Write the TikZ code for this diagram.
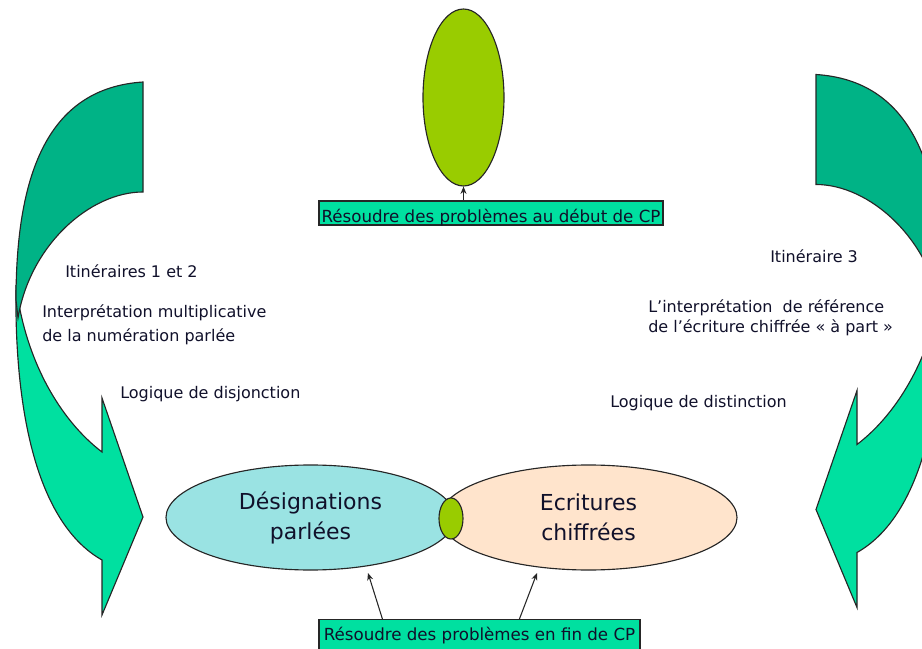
\documentclass[tikz,border=0pt]{standalone}
\usepackage{fontspec}
\setmainfont{DejaVu Sans}
\usetikzlibrary{shapes.geometric,arrows.meta,calc}
\definecolor{cBright}{HTML}{00E0A0}
\definecolor{cDark}{HTML}{00B386}
\definecolor{cCyan}{HTML}{9AE3E3}
\definecolor{cPeach}{HTML}{FFE4CC}
\definecolor{cLime}{HTML}{99CC00}
\definecolor{cText}{HTML}{10102A}
\newcommand\bandarrowshape{%
  \filldraw[shapeline, fill=cBright] (16,285) .. controls (14,420) and (40,525) .. (102,560)
     -- (102,615) -- (143,517) -- (102,398) -- (102,452)
     .. controls (60,420) and (25,360) .. (16,285) -- cycle;
  \filldraw[shapeline, fill=cDark] (143,82) .. controls (50,88) and (16,170) .. (16,300)
     -- (18,318) .. controls (30,245) and (90,192) .. (143,192) -- cycle;}
\begin{document}
\begin{tikzpicture}[x=0.75pt,y=-0.75pt,
  shapeline/.style={draw=black!85, line width=0.85pt},
  smalltxt/.style={font=\fontsize{12}{14}\selectfont, text=cText, inner sep=0pt, anchor=base west},
  boxtxt/.style={rectangle, draw=black!85, line width=0.85pt, fill=cBright, font=\fontsize{12.5}{15}\selectfont, text=cText, inner sep=0pt},
  bigtxt/.style={ellipse, shapeline, inner sep=0pt, align=center, text=cText, font=\fontsize{16.5}{22.5}\selectfont},
  conn/.style={-{Stealth[length=5.5pt,width=4.5pt]}, line width=0.8pt, draw=black!85}]
\useasboundingbox (0,0) rectangle (922,649);
\clip (0,0) rectangle (922,649);

% curved arrows
\bandarrowshape
\begin{scope}[shift={(959,-7.5)}, xscale=-1]
  \bandarrowshape
\end{scope}

% top
\node[ellipse, shapeline, fill=cLime, minimum width=60.75pt, minimum height=132.75pt, inner sep=0pt] (topell) at (463.5,97.5) {};
\node[boxtxt, minimum width=258pt, text height=16pt, text depth=2pt] (topbox) at (491,213) {Résoudre des problèmes au début de CP};
\draw[conn] (topbox.north -| topell.south) -- (topell.south);

% central ellipses
\node[bigtxt, fill=cCyan, minimum width=216.75pt, minimum height=78.75pt] (desig) at (310.5,517.5) {Désignations\\parlées};
\node[bigtxt, fill=cPeach, minimum width=222.75pt, minimum height=78.75pt] (ecrit) at (588.5,517.5) {Ecritures\\chiffrées};
\node[ellipse, shapeline, fill=cLime, minimum width=18pt, minimum height=30.75pt, inner sep=0pt] (inter) at (451,518.5) {};

% bottom box
\node[boxtxt, anchor=north, minimum width=240.75pt, text height=15.75pt, text depth=11.25pt] (botbox) at (479.5,619) {Résoudre des problèmes en fin de CP};
\coordinate (q1) at ($(botbox.north west)+(64,0)$);
\coordinate (q2) at ($(botbox.north west)+(201,0)$);
\coordinate (p1) at (368,573);
\coordinate (p2) at (537,573);
\draw[conn] (q1) -- (p1);
\draw[conn] (q2) -- (p2);

% texts
\node[smalltxt] (it12) at (65,278) {Itinéraires 1 et 2};
\node[smalltxt] (interpA) at (42,318) {Interprétation multiplicative};
\node[smalltxt] (interpB) at (42,341) {de la numération parlée};
\node[smalltxt] (disj) at (120,398) {Logique de disjonction};
\node[smalltxt] (it3) at (770,263) {Itinéraire 3};
\node[smalltxt] (refA) at (648,312) {L’interprétation\ \ de référence};
\node[smalltxt] (refB) at (648,332) {de l’écriture chiffrée « à part »};
\node[smalltxt] (dist) at (610,407) {Logique de distinction};
\end{tikzpicture}
\end{document}
